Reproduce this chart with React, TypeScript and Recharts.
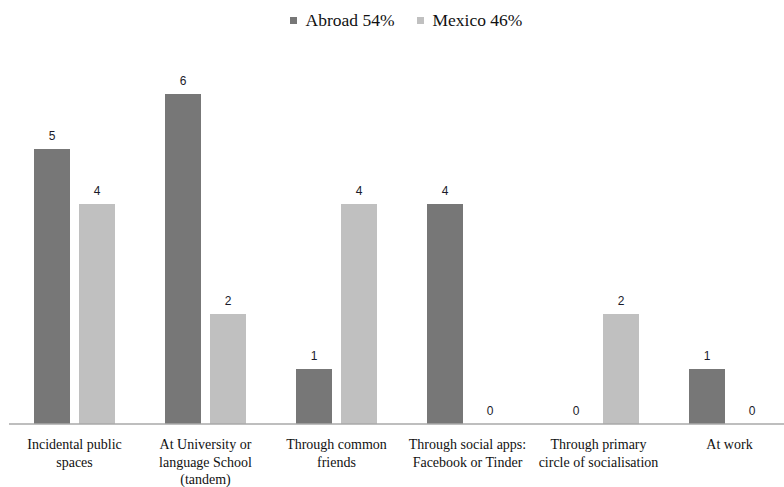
import React from 'react';
import { BarChart, Bar, XAxis, YAxis, LabelList } from 'recharts';

const categories = [
  'Incidental public\nspaces',
  'At University or\nlanguage School\n(tandem)',
  'Through common\nfriends',
  'Through social apps:\nFacebook or Tinder',
  'Through primary\ncircle of socialisation',
  'At work',
];
const abroad = [5, 6, 1, 4, 0, 1];
const mexico = [4, 2, 4, 0, 2, 0];
const seriesNames = ['Abroad 54%', 'Mexico 46%'];
const colors = ['#777777', '#c0c0c0'];

const data = categories.map((name, i) => ({ name, abroad: abroad[i], mexico: mexico[i] }));

const serif = '"Liberation Serif", "Times New Roman", serif';
const labelStyle = { fontFamily: '"Liberation Sans", Arial, sans-serif', fontSize: 12, fill: '#1a1a2a' };

const CategoryTick = (props: any) => {
  const { x, y, payload } = props;
  const lines = String(payload.value).split('\n');
  return (
    <text x={x} y={y + 17} textAnchor="middle" fontFamily={serif} fontSize={14} fill="#111">
      {lines.map((l, i) => (
        <tspan key={i} x={x} dy={i === 0 ? 0 : 17.5}>
          {l}
        </tspan>
      ))}
    </text>
  );
};

const App = () => {
  return (
    <div style={{ position: 'absolute', left: 0, top: 0, width: 784, height: 487, overflow: 'hidden', background: '#fff' }}>
      <div style={{ position: 'absolute', top: 10, left: 14, width: 784, display: 'flex', justifyContent: 'center', fontFamily: serif, fontSize: 17.5, color: '#111' }}>
        {seriesNames.map((n, i) => (
          <div key={n} style={{ display: 'flex', alignItems: 'center', marginLeft: i === 0 ? 22 : 0, marginRight: 22 }}>
            <span style={{ display: 'inline-block', width: 7, height: 7, background: colors[i], marginRight: 9 }} />
            <span>{n}</span>
          </div>
        ))}
      </div>
      <BarChart width={800} height={487} data={data} margin={{ top: 39, right: 5, bottom: 0, left: 9 }} barSize={36} barGap={9}>
        <XAxis dataKey="name" interval={0} height={63} tickLine={false} axisLine={{ stroke: '#a8a8a8', strokeWidth: 1.5 }} tick={<CategoryTick />} />
        <YAxis hide domain={[0, 7]} />
        <Bar dataKey="abroad" name={seriesNames[0]} fill={colors[0]} minPointSize={0.01} isAnimationActive={false}>
          <LabelList dataKey="abroad" position="top" offset={9} style={labelStyle} />
        </Bar>
        <Bar dataKey="mexico" name={seriesNames[1]} fill={colors[1]} minPointSize={0.01} isAnimationActive={false}>
          <LabelList dataKey="mexico" position="top" offset={9} style={labelStyle} />
        </Bar>
      </BarChart>
    </div>
  );
};

export default App;
